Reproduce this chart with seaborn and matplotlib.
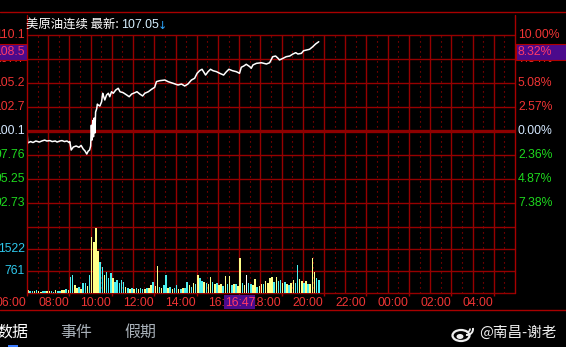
import numpy as np
import pandas as pd
import matplotlib
matplotlib.use("Agg")
import matplotlib.pyplot as plt
import seaborn as sns
from matplotlib.patches import Rectangle, Ellipse, Arc

sns.set_theme(style="dark")
plt.rcParams['font.family'] = ['Liberation Sans', 'Noto Sans CJK SC', 'DejaVu Sans']

# ---------------- data ----------------
title_name = "美原油连续 最新:"
title_last = "107.05"
prev_close = 100.1
left_labels = ["110.1", "107.7", "105.2", "102.7", "100.1", "97.76", "95.25", "92.73"]
right_labels = ["10.00%", "7.54%", "5.08%", "2.57%", "0.00%", "2.36%", "4.87%", "7.38%"]
vol_labels = ["1522", "761"]
vol_levels = [1522, 761]
time_labels = ["06:00", "08:00", "10:00", "12:00", "14:00", "16:00", "18:00",
               "20:00", "22:00", "00:00", "02:00", "04:00"]
cursor_price = "108.5"
cursor_pct = "8.32%"
cursor_time = "16:47"

price_times = ["06:45", "06:47", "06:55", "07:02", "07:10", "07:20", "07:27", "07:35", "07:41", "07:50",
               "07:56", "08:05", "08:10", "08:18", "08:24", "08:31", "08:38", "08:44", "08:46", "08:50",
               "08:56", "09:04", "09:12", "09:18", "09:24", "09:29", "09:34", "09:38", "09:42", "09:45",
               "09:47", "09:49", "09:51", "09:53", "09:55", "09:57", "09:59", "10:02", "10:04",
               "10:06", "10:11", "10:16", "10:19", "10:22", "10:25", "10:30", "10:35", "10:39", "10:44",
               "10:49", "10:56", "11:03", "11:08", "11:17", "11:27", "11:34", "11:41", "11:50", "11:56",
               "12:04", "12:12", "12:18", "12:28", "12:37", "12:46", "12:51", "13:00", "13:15", "13:24",
               "13:38", "13:52", "14:02", "14:11", "14:20", "14:30", "14:39", "14:46", "14:53", "15:00",
               "15:06", "15:10", "15:17", "15:24", "15:31", "15:41", "15:50", "16:01", "16:09", "16:16",
               "16:26", "16:37", "16:46", "16:51", "16:58", "17:05", "17:15", "17:19", "17:24", "17:34",
               "17:48", "18:02", "18:11", "18:20", "18:28", "18:35", "18:39", "18:49", "18:58", "19:08",
               "19:17", "19:25", "19:31", "19:41", "19:47", "19:56", "20:04", "20:13", "20:21", "20:30"]
price_values = [100.10, 98.85, 99.00, 98.90, 99.06, 98.95, 99.06, 99.15, 99.06, 99.10,
                99.00, 99.06, 98.95, 99.06, 99.10, 99.00, 99.06, 98.90, 99.00, 98.12,
                98.43, 98.54, 98.40, 98.60, 98.22, 98.02, 97.70, 98.00, 98.12, 98.54,
                100.70, 99.16, 101.20, 99.50, 101.45, 99.90, 102.08, 102.40, 102.90,
                102.81, 102.70, 103.15, 104.03, 103.67, 103.33, 103.85, 104.03, 103.67, 104.19,
                104.03, 104.37, 104.55, 104.19, 104.09, 103.85, 103.67, 103.95, 104.09, 104.19,
                103.95, 103.75, 104.03, 104.19, 104.44, 104.65, 105.24, 105.34, 105.41, 105.24,
                105.07, 104.89, 104.99, 104.79, 104.99, 105.41, 105.59, 106.11, 106.38, 106.53,
                106.17, 105.93, 106.28, 106.53, 106.38, 106.28, 106.11, 105.93, 106.28, 106.53,
                106.38, 106.28, 106.11, 106.74, 106.87, 107.05, 106.80, 106.63, 106.98, 107.15,
                107.21, 107.08, 107.21, 107.84, 107.91, 107.67, 107.50, 107.67, 107.84, 107.91,
                108.12, 108.26, 108.12, 108.19, 108.46, 108.54, 108.61, 108.88, 109.16, 109.40]

vol_start = "06:45"
vol_interval_min = 6
vol_values = [110, 60, 80, 70, 90, 60, 50, 70, 60, 80,
              60, 70, 50, 90, 60, 80, 120, 90, 140, 110,
              560, 620, 280, 170, 200, 150, 350, 330, 250, 620,
              1950, 1780, 2240, 1450, 1080, 910, 620, 740, 520, 690,
              520, 390, 450, 350, 450, 380, 200, 170, 150, 180,
              140, 160, 130, 170, 150, 140, 160, 180, 280, 380,
              250, 940, 220, 180, 260, 620, 180, 200, 150, 170,
              280, 150, 140, 160, 190, 380, 280, 220, 360, 300,
              620, 520, 420, 380, 350, 300, 550, 390, 300, 350,
              280, 300, 250, 590, 300, 590, 260, 320, 300, 250,
              1200, 330, 280, 620, 350, 300, 280, 480, 200, 250,
              320, 300, 420, 350, 520, 550, 380, 570, 400, 450,
              350, 390, 300, 280, 330, 450, 350, 970, 480, 420,
              350, 420, 300, 320, 1200, 740, 520, 450]
vol_dirs = ("udduduudduuddudduudu" "dduududdud" "uuuudduddd" "udddddudud" "ududduduud"
            "uududdudud" "dududdudud" "udduduudud" "uududududu" "uduwdduudu"
            "uduuuududd" "ududuudduu" "duduuudd")
assert len(vol_values) == len(vol_dirs)
assert len(price_times) == len(price_values)

# ---------------- helpers ----------------
def hours_since_six(t):
    h, m = map(int, t.split(":"))
    v = h + m / 60.0 - 6.0
    return v if v >= 0 else v + 24

W, H = 566, 347
PX0, PX1 = 27, 515
XLIM = (0.75, 23.75)

def fr(x0, y0, x1, y1):
    return [x0 / W, 1 - y1 / H, (x1 - x0) / W, (y1 - y0) / H]

grid_c = "#960000"
frame_c = "#A80000"
red_t = "#F03434"
green_t = "#1ED81E"
zero_t = "#D4E8FF"
cyan_t = "#2EC8EC"
box_c = "#4B0A8C"
box_t = "#FF3A6A"
color_map = {"u": "#FFFF88", "d": "#4CF0F0", "w": "#FFFFFF"}

price_df = pd.DataFrame({"h": [hours_since_six(t) for t in price_times], "price": price_values})
v0 = hours_since_six(vol_start)
vol_df = pd.DataFrame({"h": [v0 + (i + 0.5) * vol_interval_min / 60 for i in range(len(vol_values))],
                       "vol": vol_values, "dir": list(vol_dirs)})

fig = plt.figure(figsize=(W / 100, H / 100), dpi=100, facecolor="black")
axp = fig.add_axes(fr(PX0, 35, PX1, 227))
axv = fig.add_axes(fr(PX0, 227, PX1, 293))
ov = fig.add_axes([0, 0, 1, 1], zorder=10)
ov.set_xlim(0, W); ov.set_ylim(H, 0); ov.axis("off"); ov.patch.set_alpha(0)

levels = [prev_close + 2.5 * (4 - i) for i in range(8)]
for ax in (axp, axv):
    ax.set_facecolor("black")
    for s in ax.spines.values():
        s.set_visible(False)
    ax.set_xlim(*XLIM)
    ax.grid(False)
    for k in range(1, 23):
        ax.axvline(XLIM[0] + k, color=grid_c, lw=1.0, zorder=1)
    for k in range(23):
        ax.axvline(XLIM[0] + k + 0.5, color="#B00000", lw=0.8, ls=(0, (1, 3.5)), zorder=1)

# price panel
axp.set_ylim(prev_close - 10, prev_close + 10)
for i, lv in enumerate(levels):
    if i == 4:
        axp.axhline(lv, color="#8E0000", lw=2.4, zorder=2)
    else:
        axp.axhline(lv, color=grid_c, lw=1.0, zorder=2, clip_on=False)
sns.lineplot(data=price_df, x="h", y="price", color="white", lw=1.1, ax=axp, zorder=5)
axp.set_xticks([]); axp.set_yticks([])
axp.set_xlabel(""); axp.set_ylabel("")

# volume panel
axv.set_ylim(0, 2283)
for lv in vol_levels + [2283, 0]:
    axv.axhline(lv, color=grid_c, lw=1.0, zorder=2, clip_on=False)
for d, sub in vol_df.groupby("dir"):
    axv.bar(sub["h"], sub["vol"], width=0.072, color=color_map[d], linewidth=0,
            antialiased=False, zorder=4)
axv.set_yticks([])
axv.set_xticks([XLIM[0] + 2 * k for k in range(12)])
axv.set_xticklabels([])
axv.tick_params(axis="x", length=2.5, width=1, color=frame_c, direction="out", bottom=True)

# axis labels
lt = axp.get_yaxis_transform()
for i, (lv, ltxt, rtxt) in enumerate(zip(levels, left_labels, right_labels)):
    c = red_t if i < 4 else (zero_t if i == 4 else green_t)
    axp.text((25 - PX0) / 488, lv, ltxt, transform=lt, ha="right", va="center",
             color=c, fontsize=8.8, clip_on=False)
    axp.text((518 - PX0) / 488, lv, rtxt, transform=lt, ha="left", va="center",
             color=c, fontsize=8.8, clip_on=False)
vt = axv.get_yaxis_transform()
for lv, txt in zip(vol_levels, vol_labels):
    axv.text((25 - PX0) / 488, lv, txt, transform=vt, ha="right", va="center",
             color=cyan_t, fontsize=8.8, clip_on=False)
xt = axv.get_xaxis_transform()
for txt in time_labels:
    axv.text(hours_since_six(txt), (293 - 302.5) / 66, txt, transform=xt, ha="center", va="center",
             color=red_t, fontsize=8.8, clip_on=False)

# frame lines
ov.plot([0, W], [12, 12], color=frame_c, lw=1.0)
ov.plot([PX0, PX0], [15, 293], color=frame_c, lw=1.0)
ov.plot([PX1, PX1], [15, 293], color=frame_c, lw=1.0)
ov.plot([0, W], [310, 310], color=frame_c, lw=1.0)

# title
cjk = ["Noto Sans CJK SC", "DejaVu Sans"]
ov.text(26.5, 24.5, title_name, family=cjk, fontsize=8.9, color="white", va="center", ha="left")
ov.text(121.5, 24.5, title_last, fontsize=8.9, color="#D6F0FF", va="center", ha="left")
ov.text(157.5, 25.5, "↓", family=["DejaVu Sans"], fontsize=8.0, color="#2EA8FF", va="center", ha="left")

# cursor boxes
ov.add_patch(Rectangle((-1, 43.5), 27.5, 16.5, facecolor=box_c, edgecolor="#B00000", lw=0.8, zorder=11))
ov.text(25, 51.5, cursor_price, ha="right", va="center", color=box_t, fontsize=8.8, zorder=12)
ov.add_patch(Rectangle((516, 43.5), 52, 16.5, facecolor=box_c, edgecolor="#B00000", lw=0.8, zorder=11))
ov.text(518, 51.5, cursor_pct, ha="left", va="center", color=box_t, fontsize=8.8, zorder=12)
cx = PX0 + (hours_since_six(cursor_time) - XLIM[0]) * (PX1 - PX0) / (XLIM[1] - XLIM[0])
ov.add_patch(Rectangle((cx - 15.5, 295), 31, 14, facecolor=box_c, edgecolor="none", zorder=11))
ov.text(cx, 302.5, cursor_time, ha="center", va="center", color=box_t, fontsize=8.8, zorder=12)

# bottom tabs
ov.text(12.5, 332, "数据", family=cjk, fontsize=11.5, color="white", ha="center", va="center")
ov.text(76, 332, "事件", family=cjk, fontsize=11.5, color="#A8B0B8", ha="center", va="center")
ov.text(140.5, 332, "假期", family=cjk, fontsize=11.5, color="#A8B0B8", ha="center", va="center")
ov.add_patch(Rectangle((8, 345), 10, 3, facecolor="#3A7BFF", edgecolor="none"))

# watermark
ov.add_patch(Ellipse((461, 335.5), 17, 11, facecolor="none", edgecolor="#EEEEEE", lw=1.6))
ov.add_patch(Ellipse((460, 336.5), 7, 5, facecolor="#EEEEEE", edgecolor="none"))
ov.add_patch(Arc((467, 329), 12, 12, theta1=-10, theta2=100, color="#EEEEEE", lw=1.4))
ov.add_patch(Arc((467, 329), 6, 6, theta1=-10, theta2=100, color="#EEEEEE", lw=1.2))
ov.text(479, 333, "@南昌-谢老", family=cjk, fontsize=10.5, color="#EEEEEE", ha="left", va="center")

fig.savefig("out.png", dpi=100, facecolor="black")
